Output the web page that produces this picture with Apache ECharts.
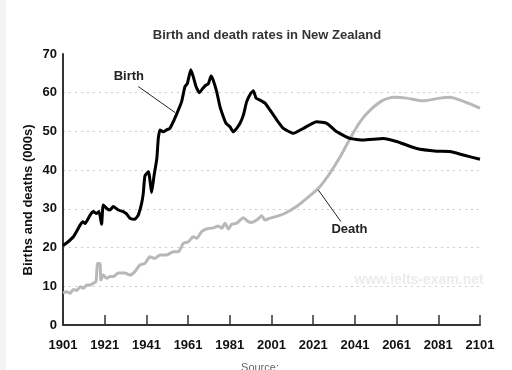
<!DOCTYPE html>
<html><head><meta charset="utf-8">
<script src="https://cdn.jsdelivr.net/npm/echarts@6/dist/echarts.min.js"></script>
<style>html,body{margin:0;padding:0;background:#fff}#c{width:512px;height:370px}</style>
</head><body><div id="c"></div>
<script>
var BASE_YEAR = 1901;
var xTickYears = [1901,1921,1941,1961,1981,2001,2021,2041,2061,2081,2101];
var yTicks = [0,10,20,30,40,50,60,70];
var birthYears = [1901,1902.8,1906,1909.2,1910.5,1911.6,1914,1915.5,1917.1,1918.3,1919.5,1920.3,1922,1923.5,1925.1,1927.5,1929.9,1931.5,1933.1,1935.5,1937.1,1938.7,1939.5,1940.3,1942,1943.5,1944.6,1946,1946.7,1947.5,1949,1950.7,1952.3,1953.9,1956.3,1957.9,1959.5,1960.6,1962.3,1963.5,1964.8,1966.4,1968,1969.6,1970.7,1972,1973,1974.7,1976.3,1977.9,1979.2,1981.1,1982.7,1984.3,1985.9,1987.5,1989.1,1991,1992.3,1993.6,1995.5,1997.9,2000.3,2003.5,2006.7,2011.5,2016.3,2022.7,2027.5,2032.3,2038.7,2045,2054.6,2061,2070.6,2080.2,2086.6,2093,2101];
var birthValues = [20.5,21.2,22.8,25.8,26.7,26.2,28.4,29.3,28.8,29.3,26.0,31.0,30.1,29.7,30.6,29.7,29.3,28.7,27.6,27.3,28.4,31.4,34.0,38.5,39.6,34.2,38.3,43.0,48.2,50.4,49.9,50.4,50.8,52.5,55.5,57.7,61.6,62.3,65.9,64.1,61.6,60.0,61.1,62.0,62.3,64.3,63.3,60.3,56.4,53.8,52.1,51.2,49.9,50.8,52.1,54.2,57.7,59.8,60.5,58.6,58.1,57.3,55.5,53.0,50.8,49.5,50.8,52.5,52.1,49.9,48.2,47.8,48.2,47.4,45.6,44.9,44.8,43.9,42.8];
var deathYears = [1901,1902.8,1904.4,1906,1907.6,1909.2,1910.8,1912.4,1914,1915.5,1916.8,1917.6,1918.7,1919.2,1920.3,1922,1923.5,1925.2,1927.5,1930.7,1933.1,1935.5,1937.9,1940.3,1942.7,1945.1,1947.5,1950.7,1953.9,1956.3,1958.7,1961.1,1963.5,1965.1,1967.5,1969.9,1973.1,1975.5,1977.1,1978.7,1980.3,1981.9,1984.3,1987.5,1989.9,1991.5,1993.9,1996.3,1997.9,2000.3,2004.3,2008,2013,2017.9,2023.5,2029,2034,2038.7,2043.5,2048.3,2054.6,2059.5,2065.9,2073.8,2081.8,2086.6,2091.4,2096.2,2101];
var deathValues = [8.3,8.6,8.2,9.2,8.9,9.9,9.5,10.3,10.3,10.8,11.2,15.9,15.9,11.6,12.9,12.1,12.5,12.5,13.4,13.4,12.9,13.8,15.5,15.9,17.6,17.2,18.1,18.1,18.9,18.9,21.1,21.5,22.8,22.4,24.1,24.8,25.1,25.6,25.0,26.3,24.8,26.0,26.3,27.7,26.7,26.5,27.1,28.2,27.1,27.6,28.2,29.0,30.6,32.7,35.3,39.2,43.5,48.2,52.5,55.5,58.1,58.8,58.6,57.9,58.6,58.8,58.1,57.1,56.0];
var birthLabel = {text:'Birth', year:1932.6, value:64.1, lineFrom:[1937.1,61.6], lineTo:[1954.7,54.9]};
var deathLabel = {text:'Death', year:2038.4, value:24.7, lineFrom:[2023.4,34.9], lineTo:[2034.3,26.7]};

function pairs(xs, ys){ return xs.map(function(x,i){ return [x-BASE_YEAR, ys[i]]; }); }
function off(p){ return [p[0]-BASE_YEAR, p[1]]; }

var chart = echarts.init(document.getElementById('c'));
var font = 'Liberation Sans, Arial, sans-serif';
function annot(lbl){
  return {
    markLine: {silent:true, symbol:['none','none'], animation:false,
      lineStyle:{color:'#222', width:1, type:'solid'}, label:{show:false},
      data:[[{coord:off(lbl.lineFrom)},{coord:off(lbl.lineTo)}]]},
    markPoint: {silent:true, symbol:'circle', symbolSize:0, animation:false,
      label:{show:true, position:'inside', formatter:lbl.text, color:'#222', fontWeight:'bold', fontSize:13, fontFamily:font},
      data:[{coord:[lbl.year-BASE_YEAR, lbl.value]}]}
  };
}
var bA = annot(birthLabel), dA = annot(deathLabel);
chart.setOption({
  animation:false,
  backgroundColor:'#fff',
  title:{text:'Birth and death rates in New Zealand', left:262, textAlign:'center', top:24,
    textStyle:{fontSize:13, fontWeight:'bold', color:'#333', fontFamily:font}},
  grid:{left:63, right:32, top:54, bottom:45, containLabel:false},
  xAxis:{type:'value', min:0, max:200, interval:20,
    axisLine:{show:true, lineStyle:{color:'#333', width:2}},
    axisTick:{show:true, inside:true, length:10, lineStyle:{color:'#333', width:1.5}},
    axisLabel:{margin:14, color:'#111', fontWeight:'bold', fontSize:13, fontFamily:font,
      formatter:function(v){ return String(v+BASE_YEAR); }},
    splitLine:{show:false}},
  yAxis:{type:'value', min:0, max:70, interval:10,
    axisLine:{show:true, lineStyle:{color:'#333', width:2}},
    axisTick:{show:false},
    axisLabel:{margin:6, color:'#111', fontWeight:'bold', fontSize:13, fontFamily:font},
    splitLine:{show:true, showMinLine:false, showMaxLine:false, lineStyle:{color:'#ccc', type:[2,4], width:1}}},
  graphic:[
    {type:'rect', left:0, top:0, shape:{width:6, height:370}, style:{fill:'#f4f4f4'}, silent:true},
    {type:'text', x:28, y:200, rotation:Math.PI/2,
      style:{text:'Births and deaths (000s)', fill:'#111', font:'bold 13px '+font, align:'center', verticalAlign:'middle'}},
    {type:'text', x:419, y:280,
      style:{text:'www.ielts-exam.net', fill:'#ececec', font:'bold 14px '+font, align:'center', verticalAlign:'middle'}},
    {type:'text', x:260, y:362,
      style:{text:'Source:', fill:'#666', font:'11px '+font, align:'center', verticalAlign:'top'}}
  ],
  series:[
    {name:'Death', type:'line', data:pairs(deathYears, deathValues), showSymbol:false, smooth:0.2,
      lineStyle:{color:'#b8b8b8', width:3}, z:2, markLine:dA.markLine, markPoint:dA.markPoint},
    {name:'Birth', type:'line', data:pairs(birthYears, birthValues), showSymbol:false, smooth:0.15,
      lineStyle:{color:'#000', width:3}, z:3, markLine:bA.markLine, markPoint:bA.markPoint}
  ]
});
</script></body></html>
